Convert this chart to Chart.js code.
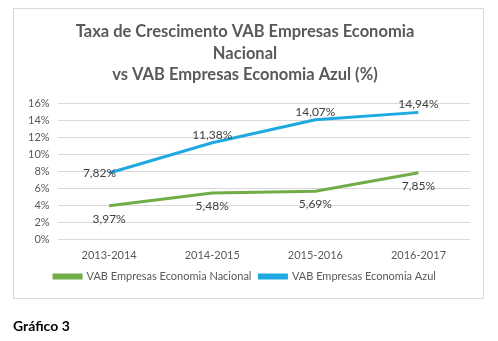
<!DOCTYPE html>
<html lang="pt">
<head>
  <meta charset="UTF-8">
  <title>Taxa de Crescimento VAB</title>
  <script src="https://cdn.jsdelivr.net/npm/chart.js"></script>
  <style>
    body { margin: 0; width: 498px; height: 341px; background: #fff; position: relative; overflow: hidden; }
    #frame { position: absolute; left: 13px; top: 8px; width: 469px; height: 289px; border: 1px solid #d9d9d9; }
    #wrap { position: absolute; left: 0; top: 0; width: 498px; height: 341px; }
    #caption { position: absolute; left: 13px; top: 317px; font: bold 14px Lato, "Liberation Sans", sans-serif; color: #000; }
  </style>
</head>
<body>
  <div id="frame"></div>
  <div id="wrap"><canvas id="myChart"></canvas></div>
  <div id="caption">Gráfico 3</div>

  <script>
    // categories and series (growth rate, %)
    const periods = ['2013-2014', '2014-2015', '2015-2016', '2016-2017'];
    const nacional = [3.97, 5.48, 5.69, 7.85];
    const azul = [7.82, 11.38, 14.07, 14.94];
    const yTicks = [0, 2, 4, 6, 8, 10, 12, 14, 16];

    // where each value label goes, relative to its point
    const nacionalLabelPos = ['below', 'below', 'below', 'below'];
    const azulLabelPos = ['left', 'above', 'above', 'above'];

    const fmt = v => v.toFixed(2).replace('.', ',') + '%';

    // simple value labels (no datalabels plugin available)
    const valueLabels = {
      id: 'valueLabels',
      afterDatasetsDraw(chart) {
        const ctx = chart.ctx;
        ctx.save();
        ctx.font = '12px Lato, "Liberation Sans", sans-serif';
        ctx.fillStyle = '#404040';
        ctx.textBaseline = 'middle';
        chart.data.datasets.forEach((ds, i) => {
          const meta = chart.getDatasetMeta(i);
          meta.data.forEach((pt, j) => {
            const pos = ds.labelPos[j];
            let x = pt.x, y = pt.y;
            ctx.textAlign = 'center';
            if (pos === 'above') y -= 8;
            else if (pos === 'below') y += 13;
            else if (pos === 'left') { ctx.textAlign = 'right'; x += 7; }
            ctx.fillText(fmt(ds.data[j]), x, y);
          });
        });
        ctx.restore();
      }
    };

    const ctx = document.getElementById('myChart').getContext('2d');
    const chart = new Chart(ctx, {
      type: 'line',
      data: {
        labels: periods,
        datasets: [
          {
            label: 'VAB Empresas Economia Nacional',
            data: nacional,
            borderColor: '#70ad47',
            backgroundColor: '#70ad47',
            borderWidth: 3,
            pointRadius: 0,
            tension: 0,
            labelPos: nacionalLabelPos
          },
          {
            label: 'VAB Empresas Economia Azul',
            data: azul,
            borderColor: '#1fa9e1',
            backgroundColor: '#1fa9e1',
            borderWidth: 3,
            pointRadius: 0,
            tension: 0,
            labelPos: azulLabelPos
          }
        ]
      },
      options: {
        responsive: true,
        maintainAspectRatio: false,
        animation: false,
        layout: { padding: { left: 20, right: 28, top: 21, bottom: 49 } },
        plugins: {
          title: {
            display: true,
            text: ['Taxa de Crescimento VAB Empresas Economia', 'Nacional', 'vs VAB Empresas Economia Azul (%)'],
            color: '#595959',
            font: { family: 'Lato, "Liberation Sans", sans-serif', size: 16.5, weight: 'bold', lineHeight: 1.3 },
            padding: { top: 0, bottom: 18 }
          },
          legend: {
            position: 'bottom',
            labels: {
              color: '#595959',
              font: { family: 'Lato, "Liberation Sans", sans-serif', size: 11 },
              boxWidth: 27,
              boxHeight: 3,
              padding: 8
            }
          },
          tooltip: { enabled: false }
        },
        scales: {
          x: {
            offset: true,
            grid: { display: false },
            border: { display: false },
            ticks: { color: '#595959', font: { family: 'Lato, "Liberation Sans", sans-serif', size: 11, lineHeight: 1.4 }, padding: 0 }
          },
          y: {
            min: 0,
            max: 16,
            afterBuildTicks: axis => { axis.ticks = yTicks.map(v => ({ value: v })); },
            grid: { color: '#d9d9d9', drawTicks: false },
            border: { display: false },
            ticks: { color: '#595959', font: { family: 'Lato, "Liberation Sans", sans-serif', size: 11 }, padding: 8, callback: v => v + '%' }
          }
        }
      },
      plugins: [valueLabels]
    });
  </script>
</body>
</html>
